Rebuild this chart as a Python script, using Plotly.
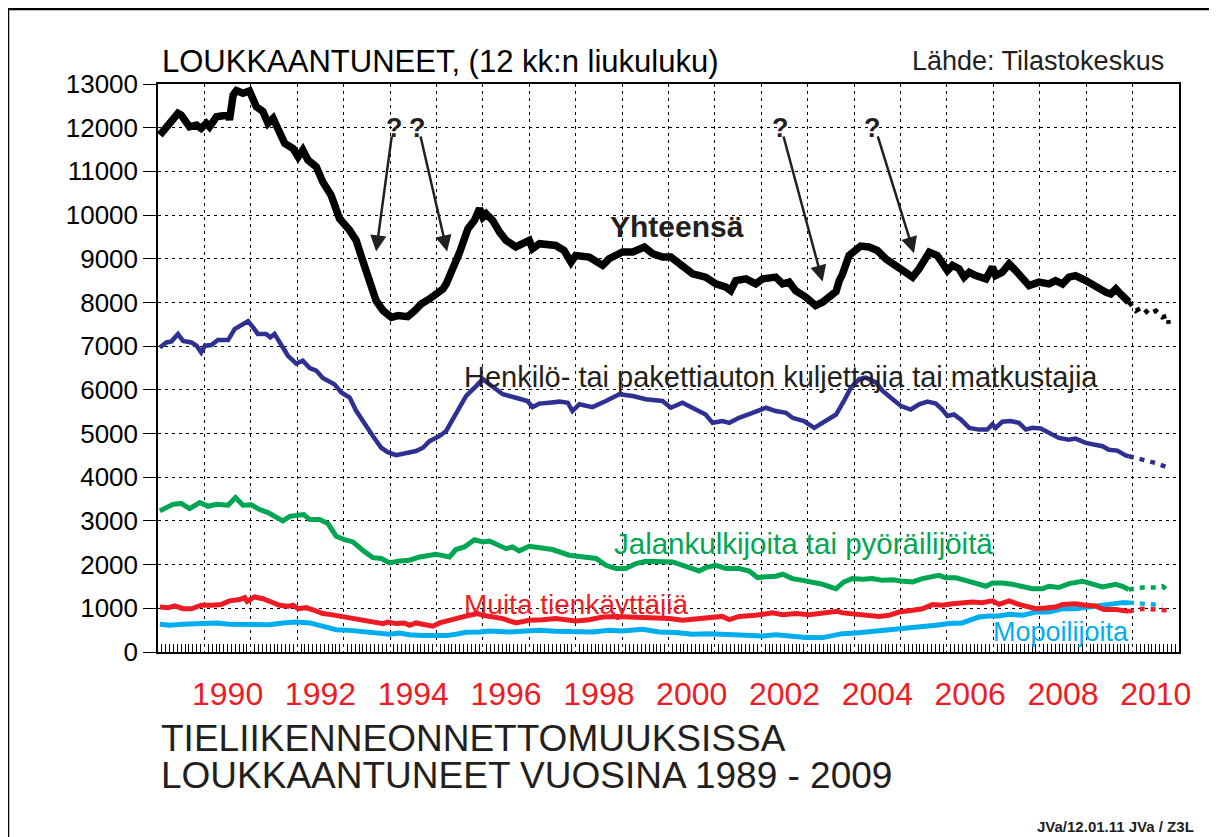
import plotly.graph_objects as go

# ---------------- data (12-month moving averages) -------------
tot_x = [1989.04, 1989.43, 1989.50, 1989.68, 1989.83, 1989.93, 1990.04, 1990.11, 1990.26, 1990.51,
         1990.54, 1990.62, 1990.69, 1990.83, 1990.97, 1991.12, 1991.26, 1991.37, 1991.48, 1991.58,
         1991.73, 1991.91, 1992.02, 1992.12, 1992.23, 1992.41, 1992.55, 1992.73, 1992.91, 1993.13,
         1993.27, 1993.41, 1993.56, 1993.70, 1993.85, 1994.03, 1994.17, 1994.38, 1994.53, 1994.67,
         1994.85, 1994.99, 1995.14, 1995.21, 1995.28, 1995.35, 1995.50, 1995.68, 1995.82, 1995.93,
         1996.00, 1996.07, 1996.21, 1996.36, 1996.50, 1996.71, 1996.86, 1997.00, 1997.07, 1997.22,
         1997.57, 1997.75, 1997.90, 1998.00, 1998.29, 1998.58, 1998.72, 1999.01, 1999.23, 1999.48,
         1999.66, 1999.87, 2000.05, 2000.30, 2000.52, 2000.80, 2001.02, 2001.24, 2001.34, 2001.45,
         2001.67, 2001.88, 2002.03, 2002.31, 2002.46, 2002.60, 2002.74, 2002.96, 2003.17, 2003.32,
         2003.53, 2003.61, 2003.68, 2003.75, 2003.89, 2004.14, 2004.32, 2004.50, 2004.68, 2004.90,
         2005.08, 2005.26, 2005.40, 2005.62, 2005.79, 2005.94, 2006.01, 2006.12, 2006.26, 2006.37,
         2006.48, 2006.62, 2006.84, 2006.98, 2007.05, 2007.19, 2007.34, 2007.48, 2007.63, 2007.77,
         2007.98, 2008.20, 2008.34, 2008.49, 2008.63, 2008.77, 2008.99, 2009.20, 2009.42, 2009.53,
         2009.64, 2009.74, 2009.92]
tot_y = [11830, 12330, 12290, 12020, 12060, 11985, 12100, 12020, 12250, 12290,
         12180, 12750, 12850, 12790, 12840, 12480, 12370, 12100, 12215, 11950,
         11640, 11525, 11335, 11490, 11260, 11105, 10760, 10455, 9920, 9650,
         9420, 8960, 8425, 8040, 7810, 7660, 7700, 7675, 7810, 7965,
         8080, 8195, 8310, 8425, 8580, 8730, 9150, 9690, 9880, 10150,
         9955, 10030, 9880, 9610, 9420, 9270, 9330, 9420, 9230, 9345,
         9305, 9190, 8920, 9075, 9040, 8850, 9000, 9155, 9155, 9270,
         9115, 9040, 9040, 8810, 8655, 8580, 8425, 8350, 8270, 8500,
         8540, 8425, 8540, 8580, 8425, 8465, 8270, 8120, 7930, 8005,
         8160, 8250, 8500, 8650, 9075, 9290, 9270, 9190, 9000, 8850,
         8690, 8580, 8770, 9150, 9075, 8885, 8730, 8850, 8770, 8580,
         8690, 8615, 8540, 8810, 8615, 8690, 8885, 8730, 8580, 8385,
         8465, 8425, 8500, 8425, 8580, 8615, 8500, 8350, 8235, 8195,
         8310, 8195, 8010]
tot_ext_x = [2009.92, 2010.07, 2010.21, 2010.35, 2010.50, 2010.64, 2010.75, 2010.78]
tot_ext_y = [8010, 7810, 7890, 7735, 7810, 7660, 7700, 7510]

car_x = [1989.04, 1989.18, 1989.29, 1989.43, 1989.54, 1989.72, 1989.83, 1989.93, 1990.01, 1990.15,
         1990.29, 1990.51, 1990.65, 1990.79, 1990.94, 1991.05, 1991.15, 1991.33, 1991.42, 1991.51,
         1991.66, 1991.80, 1991.98, 1992.12, 1992.27, 1992.41, 1992.55, 1992.70, 1992.80, 1992.95,
         1993.13, 1993.27, 1993.45, 1993.63, 1993.81, 1993.95, 1994.13, 1994.35, 1994.56, 1994.71,
         1994.85, 1995.07, 1995.21, 1995.35, 1995.50, 1995.64, 1995.86, 1996.00, 1996.14, 1996.43,
         1996.71, 1996.96, 1997.07, 1997.22, 1997.43, 1997.65, 1997.83, 1997.93, 1998.08, 1998.36,
         1998.65, 1998.94, 1999.23, 1999.51, 1999.87, 2000.05, 2000.30, 2000.59, 2000.80, 2000.95,
         2001.16, 2001.31, 2001.52, 2001.81, 2002.10, 2002.31, 2002.53, 2002.67, 2002.92, 2003.14,
         2003.32, 2003.53, 2003.61, 2003.78, 2003.93, 2004.11, 2004.25, 2004.47, 2004.61, 2004.83,
         2005.01, 2005.22, 2005.40, 2005.58, 2005.76, 2005.90, 2006.01, 2006.15, 2006.30, 2006.48,
         2006.69, 2006.87, 2006.98, 2007.05, 2007.19, 2007.37, 2007.55, 2007.70, 2007.84, 2008.02,
         2008.20, 2008.41, 2008.63, 2008.77, 2008.99, 2009.20, 2009.35, 2009.49, 2009.67, 2009.85,
         2009.92]
car_y = [6970, 7085, 7110, 7275, 7120, 7085, 7010, 6855, 7010, 7025,
         7140, 7140, 7390, 7470, 7570, 7430, 7280, 7280, 7200, 7280,
         7010, 6780, 6600, 6665, 6500, 6440, 6270, 6170, 6130, 5940,
         5825, 5520, 5210, 4945, 4675, 4575, 4505, 4560, 4600, 4675,
         4825, 4945, 5060, 5325, 5630, 5860, 6090, 6245, 6130, 5900,
         5820, 5745, 5605, 5685, 5705, 5730, 5705, 5515, 5670, 5605,
         5745, 5900, 5860, 5785, 5745, 5590, 5705, 5550, 5435, 5245,
         5285, 5245, 5360, 5475, 5590, 5515, 5475, 5360, 5285, 5130,
         5245, 5400, 5435, 5745, 6050, 6245, 6280, 6170, 5980, 5785,
         5630, 5550, 5670, 5730, 5685, 5550, 5400, 5435, 5320, 5130,
         5090, 5090, 5210, 5130, 5270, 5285, 5245, 5090, 5130, 5115,
         5015, 4900, 4860, 4885, 4785, 4745, 4710, 4630, 4610, 4500,
         4480]
car_ext_x = [2009.92, 2010.21, 2010.50, 2010.78]
car_ext_y = [4480, 4400, 4325, 4215]

ped_x = [1989.04, 1989.18, 1989.32, 1989.50, 1989.68, 1989.90, 1990.08, 1990.26, 1990.51, 1990.67,
         1990.83, 1991.01, 1991.19, 1991.37, 1991.51, 1991.69, 1991.84, 1992.02, 1992.14, 1992.27,
         1992.48, 1992.66, 1992.84, 1993.02, 1993.20, 1993.41, 1993.63, 1993.81, 1993.99, 1994.20,
         1994.42, 1994.64, 1994.85, 1994.99, 1995.14, 1995.28, 1995.42, 1995.60, 1995.82, 1996.00,
         1996.14, 1996.35, 1996.50, 1996.64, 1996.78, 1997.00, 1997.22, 1997.50, 1997.86, 1998.22,
         1998.44, 1998.65, 1998.87, 1999.08, 1999.30, 1999.51, 1999.80, 2000.09, 2000.37, 2000.66,
         2000.80, 2001.02, 2001.24, 2001.52, 2001.74, 2001.92, 2002.10, 2002.31, 2002.46, 2002.67,
         2002.89, 2003.10, 2003.32, 2003.53, 2003.61, 2003.78, 2003.96, 2004.18, 2004.39, 2004.61,
         2004.83, 2005.01, 2005.26, 2005.47, 2005.69, 2005.83, 2005.97, 2006.19, 2006.40, 2006.62,
         2006.84, 2006.98, 2007.19, 2007.41, 2007.63, 2007.84, 2008.06, 2008.20, 2008.41, 2008.63,
         2008.92, 2009.13, 2009.35, 2009.64, 2009.78, 2009.92]
ped_y = [3230, 3320, 3380, 3400, 3280, 3420, 3335, 3380, 3360, 3535,
         3360, 3370, 3260, 3190, 3105, 3000, 3105, 3115, 3145, 3030,
         3030, 2940, 2650, 2570, 2520, 2330, 2160, 2140, 2040, 2085,
         2100, 2175, 2205, 2235, 2205, 2175, 2345, 2405, 2570, 2520,
         2540, 2440, 2365, 2405, 2315, 2420, 2390, 2345, 2215, 2175,
         2140, 1985, 1910, 1910, 2025, 2075, 2075, 2060, 1960, 1855,
         1930, 1985, 1910, 1910, 1855, 1700, 1720, 1735, 1780, 1680,
         1640, 1605, 1550, 1475, 1450, 1605, 1680, 1665, 1680, 1640,
         1655, 1625, 1605, 1680, 1740, 1755, 1700, 1700, 1640, 1580,
         1505, 1580, 1580, 1550, 1490, 1450, 1450, 1505, 1475, 1565,
         1620, 1565, 1490, 1550, 1505, 1430]
ped_ext_x = [2009.92, 2010.21, 2010.50, 2010.64, 2010.78]
ped_ext_y = [1430, 1475, 1475, 1505, 1410]

oth_x = [1989.04, 1989.22, 1989.36, 1989.54, 1989.72, 1989.93, 1990.15, 1990.36, 1990.54, 1990.76,
         1990.87, 1990.92, 1991.08, 1991.26, 1991.44, 1991.62, 1991.80, 1991.91, 1992.02, 1992.19,
         1992.37, 1992.55, 1992.73, 1992.95, 1993.13, 1993.34, 1993.63, 1993.85, 1993.95, 1994.13,
         1994.31, 1994.42, 1994.56, 1994.78, 1994.92, 1995.07, 1995.28, 1995.50, 1995.71, 1995.89,
         1996.00, 1996.32, 1996.43, 1996.71, 1997.00, 1997.29, 1997.57, 1998.00, 1998.29, 1998.58,
         1998.87, 1999.15, 1999.44, 1999.73, 2000.02, 2000.30, 2000.59, 2000.88, 2001.16, 2001.31,
         2001.52, 2001.88, 2002.24, 2002.46, 2002.74, 2003.03, 2003.32, 2003.64, 2003.75, 2004.04,
         2004.32, 2004.54, 2004.75, 2004.97, 2005.26, 2005.47, 2005.69, 2005.90, 2006.12, 2006.33,
         2006.55, 2006.76, 2006.98, 2007.12, 2007.34, 2007.55, 2007.77, 2007.91, 2008.13, 2008.34,
         2008.49, 2008.77, 2008.99, 2009.20, 2009.38, 2009.64, 2009.92]
oth_y = [1030, 1015, 1055, 990, 990, 1070, 1070, 1085, 1170, 1200,
         1245, 1160, 1260, 1220, 1145, 1070, 1045, 1070, 990, 1015,
         955, 880, 855, 815, 765, 725, 665, 650, 685, 650,
         665, 610, 665, 635, 590, 665, 710, 785, 840, 880,
         840, 765, 765, 665, 725, 740, 765, 710, 740, 800,
         815, 800, 785, 785, 765, 725, 765, 800, 815, 740,
         815, 840, 895, 855, 880, 855, 895, 930, 895, 865,
         840, 815, 840, 915, 955, 990, 1085, 1070, 1105, 1120,
         1145, 1130, 1170, 1090, 1170, 1090, 1015, 990, 1005, 1030,
         1090, 1105, 1070, 1055, 970, 970, 930]
oth_ext_x = [2009.92, 2010.21, 2010.50, 2010.78]
oth_ext_y = [930, 990, 970, 955]

mop_x = [1989.04, 1989.25, 1989.54, 1989.83, 1990.04, 1990.26, 1990.54, 1990.83, 1991.12, 1991.40,
         1991.69, 1991.98, 1992.27, 1992.55, 1992.84, 1993.13, 1993.41, 1993.70, 1993.99, 1994.20,
         1994.42, 1994.71, 1994.99, 1995.21, 1995.42, 1995.64, 1995.93, 1996.14, 1996.57, 1996.86,
         1997.22, 1997.57, 1998.00, 1998.36, 1998.72, 1999.01, 1999.44, 1999.80, 2000.16, 2000.52,
         2000.88, 2001.16, 2001.45, 2001.81, 2002.03, 2002.31, 2002.60, 2002.96, 2003.32, 2003.46,
         2003.64, 2003.75, 2004.04, 2004.32, 2004.61, 2004.90, 2005.18, 2005.47, 2005.76, 2006.05,
         2006.33, 2006.48, 2006.69, 2006.91, 2007.12, 2007.34, 2007.63, 2007.91, 2008.20, 2008.49,
         2008.77, 2009.06, 2009.35, 2009.56, 2009.78, 2009.92]
mop_y = [635, 610, 635, 650, 635, 665, 635, 635, 625, 625,
         665, 685, 665, 590, 510, 495, 460, 420, 405, 435,
         395, 380, 380, 375, 405, 450, 460, 480, 460, 480,
         495, 475, 475, 460, 495, 480, 520, 460, 445, 405,
         420, 405, 405, 380, 365, 395, 360, 330, 330, 360,
         405, 420, 435, 460, 495, 520, 535, 570, 610, 650,
         665, 725, 800, 825, 825, 865, 840, 915, 915, 990,
         990, 1030, 1070, 1120, 1130, 1130]
mop_ext_x = [2009.92, 2010.21, 2010.50, 2010.64]
mop_ext_y = [1130, 1105, 1100, 1070]

year_label_pos = [1990.5, 1992.5, 1994.5, 1996.5, 1998.5, 2000.5, 2002.5, 2004.5, 2006.5, 2008.5, 2010.5]
year_labels = ["1990", "1992", "1994", "1996", "1998", "2000", "2002", "2004", "2006", "2008", "2010"]
y_ticks = list(range(0, 13001, 1000))
y_tick_text = [str(v) for v in y_ticks]

# question marks and arrows (head = arrow tip, tail = start under the "?")
q_x = [1994.09, 1994.60, 2002.42, 2004.40]
q_y = [11990, 11990, 11990, 11990]
head_x = [1993.70, 1995.23, 2003.32, 2005.29]
head_y = [9164, 9164, 8477, 9127]
tail_x = [1994.04, 1994.65, 2002.47, 2004.50]
tail_y = [11833, 11833, 11833, 11833]

# ---------------- figure ----------------
FONT = "Liberation Sans, Arial, Helvetica, sans-serif"
BLACK = "#000000"
NAVY = "#2e3192"
GREEN = "#00a651"
RED = "#ed1c24"
CYAN = "#00aeef"
DARK = "#231f20"

# plot area on screen: x 158..1179, y 84..652 (page body has an 8 px offset)
PL, PT, PW, PH = 158, 84, 1021, 568
OFF = 8


def px(sx):
    return (sx - PL) / PW


def py(sy):
    return (PT + PH - sy) / PH


fig = go.Figure()

series = [
    (mop_x, mop_y, mop_ext_x, mop_ext_y, CYAN, 5),
    (oth_x, oth_y, oth_ext_x, oth_ext_y, RED, 5),
    (ped_x, ped_y, ped_ext_x, ped_ext_y, GREEN, 5),
    (car_x, car_y, car_ext_x, car_ext_y, NAVY, 4.5),
    (tot_x, tot_y, tot_ext_x, tot_ext_y, BLACK, 7.5),
]
for sx, sy, ex, ey, col, w in series:
    fig.add_trace(go.Scatter(x=sx, y=sy, mode="lines",
                             line=dict(color=col, width=w), hoverinfo="skip",
                             showlegend=False))
for sx, sy, ex, ey, col, w in series:
    fig.add_trace(go.Scatter(x=ex, y=ey, mode="lines", xaxis="x2",
                             line=dict(color=col, width=min(w, 4.5), dash="5px,6px"),
                             hoverinfo="skip", showlegend=False))

GRID = dict(showgrid=True, gridcolor="black", gridwidth=1, griddash="3px,4px")

fig.update_layout(
    width=1217, height=837,
    margin=dict(l=PL - OFF, r=1217 - (PL - OFF) - PW, t=PT - OFF, b=837 - (PT - OFF) - PH),
    paper_bgcolor="white", plot_bgcolor="white",
    font=dict(family=FONT, color=DARK),
    xaxis=dict(range=[1989, 2011], tickmode="linear", tick0=1989, dtick=1,
               showticklabels=False, ticks="", zeroline=False,
               showline=True, linecolor="black", linewidth=2, mirror=True,
               minor=dict(tick0=1989, dtick=1 / 12, ticks="inside", ticklen=8,
                          tickcolor="black", tickwidth=1, showgrid=False),
               **GRID),
    xaxis2=dict(range=[1989, 2011], overlaying="x", anchor="y", side="bottom",
                tickmode="array", tickvals=year_label_pos, ticktext=year_labels,
                ticks="", showgrid=False, showline=False, zeroline=False,
                tickfont=dict(size=32, color=RED, family=FONT),
                ticklabelstandoff=20),
    yaxis=dict(range=[0, 13000], tickmode="array", tickvals=y_ticks, ticktext=y_tick_text,
               ticks="outside", ticklen=13, tickcolor="black", tickwidth=1,
               tickfont=dict(size=26, color="black", family=FONT),
               zeroline=False, showline=True, linecolor="black", linewidth=1.5,
               mirror=True, **GRID),
)

ann = []
# titles and texts
ann.append(dict(xref="paper", yref="paper", x=px(160), y=py(61), xanchor="left", yanchor="middle",
                text="LOUKKAANTUNEET, (12 kk:n liukuluku)", showarrow=False,
                font=dict(size=31, color="black", family=FONT)))
ann.append(dict(xref="paper", yref="paper", x=px(1166), y=py(61), xanchor="right", yanchor="middle",
                text="Lähde: Tilastokeskus", showarrow=False,
                font=dict(size=27, color=DARK, family=FONT)))
ann.append(dict(xref="paper", yref="paper", x=px(159), y=py(738), xanchor="left",
                yanchor="middle", text="TIELIIKENNEONNETTOMUUKSISSA", showarrow=False,
                font=dict(size=37, color=DARK, family=FONT)))
ann.append(dict(xref="paper", yref="paper", x=px(159), y=py(775), xanchor="left",
                yanchor="middle", text="LOUKKAANTUNEET VUOSINA 1989 - 2009", showarrow=False,
                font=dict(size=37, color=DARK, family=FONT)))
ann.append(dict(xref="paper", yref="paper", x=px(1196), y=py(826),
                xanchor="right", yanchor="middle", text="<b>JVa/12.01.11 JVa / Z3L</b>",
                showarrow=False, font=dict(size=15, color=DARK, family=FONT)))
# series labels
ann.append(dict(x=2000.19, y=9745, text="<b>Yhteensä</b>", showarrow=False,
                xanchor="center", yanchor="middle", font=dict(size=30, color=DARK, family=FONT)))
ann.append(dict(x=1995.54, y=6300, text="Henkilö- tai pakettiauton kuljettajia tai matkustajia",
                showarrow=False, xanchor="left", yanchor="middle",
                font=dict(size=29, color=DARK, family=FONT)))
ann.append(dict(x=1998.79, y=2490, text="Jalankulkijoita tai pyöräilijöitä", showarrow=False,
                xanchor="left", yanchor="middle", font=dict(size=29.5, color=GREEN, family=FONT)))
ann.append(dict(x=1995.56, y=1093, text="Muita tienkäyttäjiä", showarrow=False,
                xanchor="left", yanchor="middle", font=dict(size=28, color=RED, family=FONT)))
ann.append(dict(x=2006.95, y=451, text="Mopoilijoita", showarrow=False,
                xanchor="left", yanchor="middle", font=dict(size=27, color=CYAN, family=FONT)))
# question marks
for qx, qy in zip(q_x, q_y):
    ann.append(dict(x=qx, y=qy, text="<b>?</b>", showarrow=False, xanchor="center",
                    yanchor="middle", font=dict(size=27, color=DARK, family=FONT)))
for hx, hy, tx, ty in zip(head_x, head_y, tail_x, tail_y):
    ann.append(dict(x=hx, y=hy, ax=tx, ay=ty, xref="x", yref="y", axref="x", ayref="y",
                    text="", showarrow=True, arrowhead=2, arrowsize=1.3, arrowwidth=2.5,
                    arrowcolor=DARK))
fig.update_layout(annotations=ann)

# outer frame of the picture
fig.add_shape(type="rect", xref="paper", yref="paper",
              x0=px(8), x1=px(1240), y0=py(860), y1=py(9),
              line=dict(color="black", width=2.5), fillcolor="rgba(0,0,0,0)", layer="above")

fig.write_html("out.html")
